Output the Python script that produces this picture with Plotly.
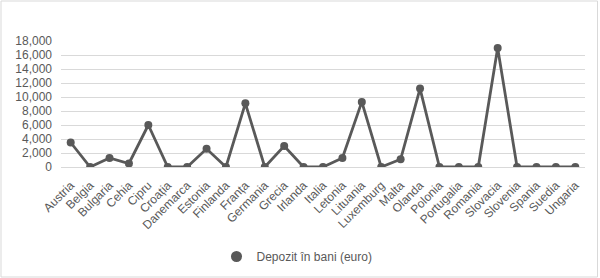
import plotly.graph_objects as go

countries = ["Austria", "Belgia", "Bulgaria", "Cehia", "Cipru", "Croația", "Danemarca", "Estonia",
             "Finlanda", "Franța", "Germania", "Grecia", "Irlanda", "Italia", "Letonia", "Lituania",
             "Luxemburg", "Malta", "Olanda", "Polonia", "Portugalia", "Romania", "Slovacia",
             "Slovenia", "Spania", "Suedia", "Ungaria"]
values = [3500, 0, 1300, 500, 6000, 0, 0, 2600, 0, 9100, 0, 3000, 0, 0, 1300, 9300,
          0, 1100, 11200, 0, 0, 0, 17000, 0, 0, 0, 0]
series_name = "Depozit în bani (euro)"
y_ticks = list(range(0, 18001, 2000))

W, H = 600, 278
ml, mr, mt, mb = 61, 15, 41, 111
pw, ph = W - ml - mr, H - mt - mb

def px_x(p):
    return (p - ml) / pw

def px_y(p):
    return (H - mb - p) / ph

fig = go.Figure()
fig.add_trace(go.Scatter(
    x=countries, y=values, mode="lines+markers", name=series_name, showlegend=False,
    line=dict(color="#595959", width=2.8),
    marker=dict(color="#595959", size=8),
))
# legend entry (Excel-style marker icon)
fig.add_trace(go.Scatter(
    x=[None], y=[None], mode="markers", name=series_name, showlegend=True,
    marker=dict(color="#595959", size=11),
))

font = "Liberation Sans, Arial, sans-serif"
fig.update_layout(
    width=W, height=H,
    margin=dict(l=ml, r=mr, t=mt, b=mb, autoexpand=False),
    paper_bgcolor="white", plot_bgcolor="white",
    font=dict(family=font, size=12, color="#595959"),
    showlegend=True,
    legend=dict(orientation="h", xref="container", x=0.495, xanchor="center",
                yref="container", y=1 - 256.5 / H, yanchor="middle",
                font=dict(size=12, color="#595959"), itemwidth=30),
    xaxis=dict(type="category", range=[-0.5, len(countries) - 0.5], tickangle=-45,
               showgrid=False, showline=False, zeroline=False, ticks="",
               ticklabelstandoff=8,
               tickfont=dict(size=12, color="#595959")),
    yaxis=dict(range=[0, 18000], tickvals=y_ticks, tickformat=",d",
               showgrid=True, gridcolor="#d9d9d9", gridwidth=1, zeroline=True,
               zerolinecolor="#d9d9d9", zerolinewidth=1, showline=False,
               ticklabelstandoff=8, tickfont=dict(size=12, color="#595959")),
    shapes=[dict(type="rect", xref="paper", yref="paper", layer="below",
                 x0=px_x(1), x1=px_x(597.5), y0=px_y(277), y1=px_y(1),
                 line=dict(color="#d9d9d9", width=1))],
)

fig.write_html("out.html")
